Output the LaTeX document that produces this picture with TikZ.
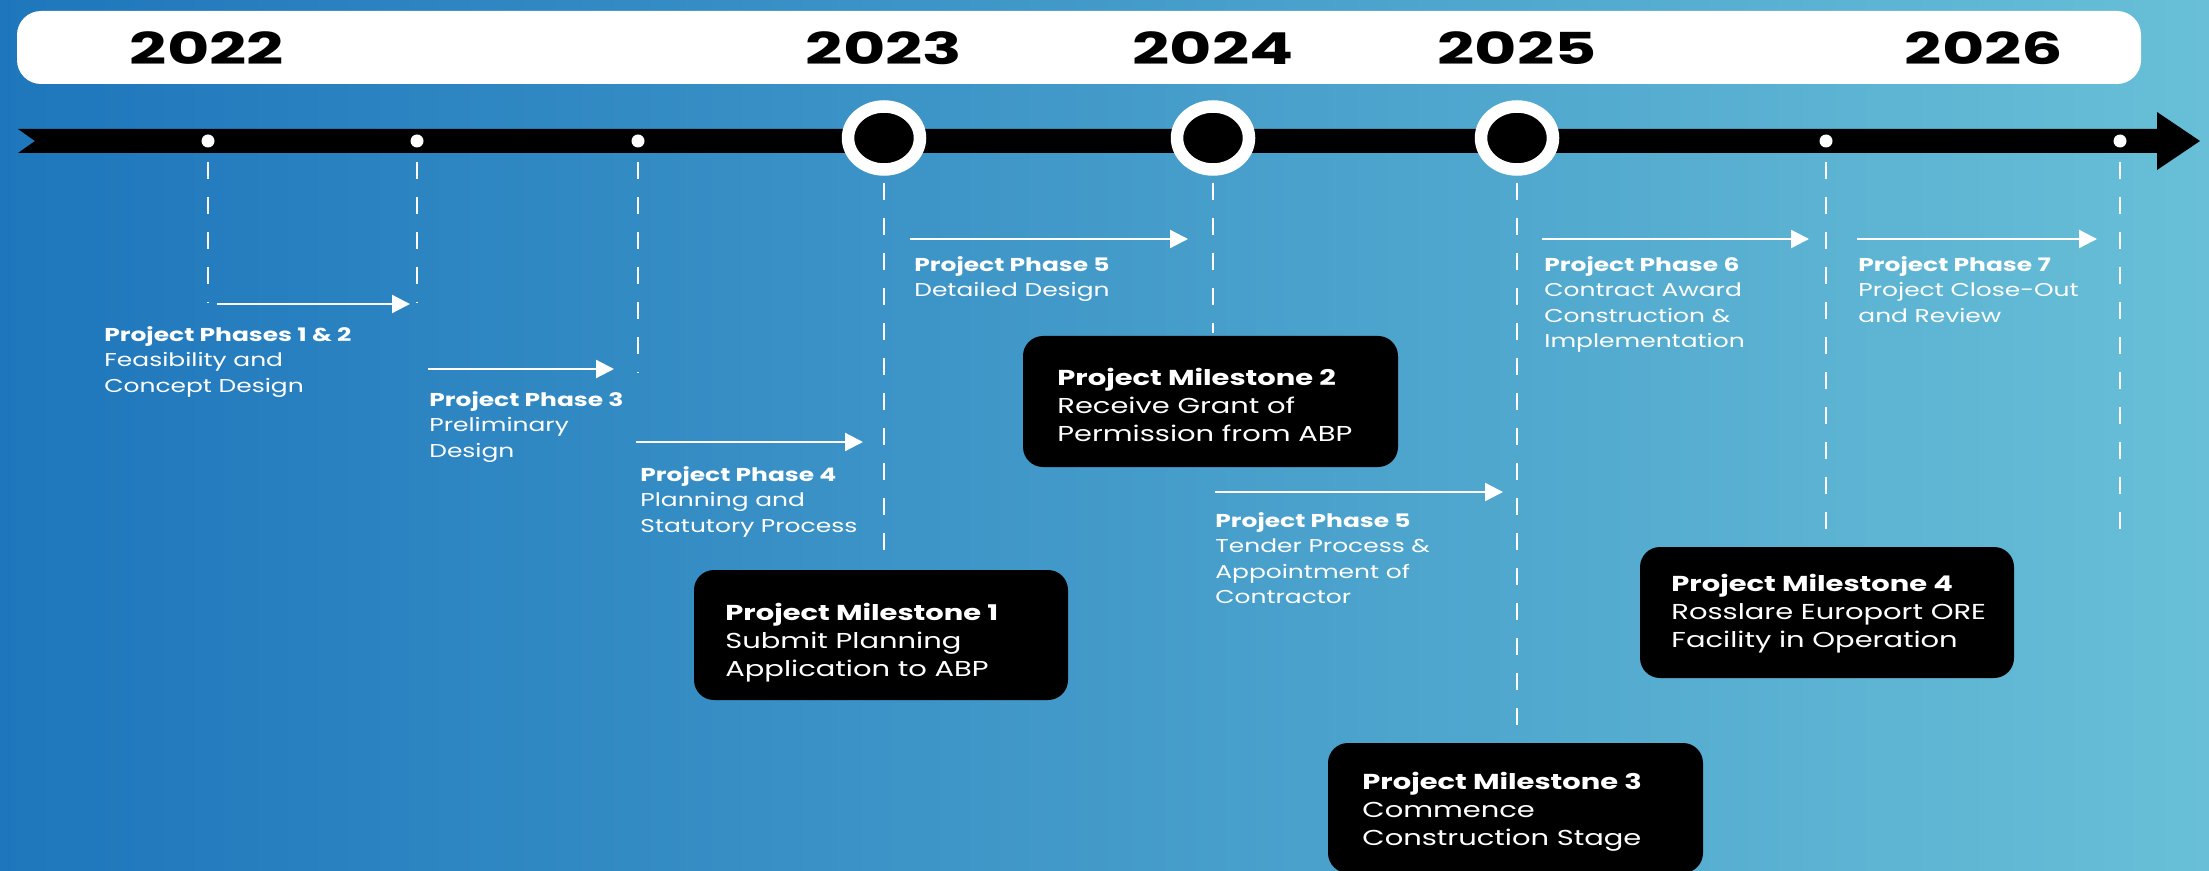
\documentclass[tikz,border=0pt]{standalone}
\usepackage{fontspec}
\setmainfont[FakeStretch=1.34]{Poppins}
\newfontfamily\yearfont[FakeStretch=1.48]{Poppins}
\usetikzlibrary{arrows.meta,shapes.geometric}
\definecolor{bgL}{RGB}{30,118,188}
\definecolor{bgR}{RGB}{104,191,215}
\tikzset{
  yearlbl/.style={inner sep=0, text=black, font=\yearfont\fontsize{22}{26}\selectfont\bfseries},
  tdot/.style={circle, fill=white, inner sep=0, minimum size=6.5pt},
  msring/.style={ellipse, fill=black, draw=white, line width=6.25pt, inner sep=0, minimum width=36pt, minimum height=31.5pt},
  dashline/.style={white, line width=1pt, dash pattern=on 8.5pt off 9pt},
  phasearrow/.style={white, line width=1.1pt, -{Triangle[length=9pt,width=9pt]}},
  phasetxt/.style={anchor=north west, inner sep=0, align=left, text=white, font=\fontsize{9.3}{12.7}\selectfont},
  msbox/.style={fill=black, rounded corners=10pt, inner sep=0},
  mstxt/.style={anchor=north west, inner sep=0, align=left, text=white, font=\fontsize{10.8}{13.9}\selectfont}
}
\begin{document}
\begin{tikzpicture}[x=0.5pt, y=-0.5pt]
\useasboundingbox (0,0) rectangle (2209,871);
\shade[left color=bgL, right color=bgR] (0,0) rectangle (2209,871);
% year band
\fill[white, rounded corners=12pt] (17,11) rectangle (2141,84);
\node[yearlbl] (y22) at (207,48) {2022};
\node[yearlbl] (y23) at (884,48) {2023};
\node[yearlbl] (y24) at (1213,48) {2024};
\node[yearlbl] (y25) at (1517,48) {2025};
\node[yearlbl] (y26) at (1984,48) {2026};
% timeline
\fill[black] (18,129) -- (2157,129) -- (2157,112) -- (2200,141) -- (2157,170) -- (2157,153) -- (18,153) -- (35,141) -- cycle;
% dots and milestone rings
\node[tdot] (d1) at (208,141) {};
\node[tdot] (d2) at (417,141) {};
\node[tdot] (d3) at (638,141) {};
\node[msring] (c1) at (884,138) {};
\node[msring] (c2) at (1213,138) {};
\node[msring] (c3) at (1517,138) {};
\node[tdot] (d4) at (1826,141) {};
\node[tdot] (d5) at (2120,141) {};
% dashed drop lines
\coordinate (e1) at (208,303);
\coordinate (e2) at (417,303);
\coordinate (e3) at (638,373);
\coordinate (e4) at (884,562);
\coordinate (e5) at (1213,333);
\coordinate (e6) at (1517,732);
\coordinate (e7) at (1826,542);
\coordinate (e8) at (2120,542);
\draw[dashline] ([yshift=-7pt]d1.south) -- (e1);
\draw[dashline] ([yshift=-7pt]d2.south) -- (e2);
\draw[dashline] ([yshift=-7pt]d3.south) -- (e3);
\draw[dashline] ([yshift=-3.5pt]c1.south) -- (e4);
\draw[dashline] ([yshift=-3.5pt]c2.south) -- (e5);
\draw[dashline] ([yshift=-3.5pt]c3.south) -- (e6);
\draw[dashline] ([yshift=-7pt]d4.south) -- (e7);
\draw[dashline] ([yshift=-7pt]d5.south) -- (e8);
% phase arrows
\coordinate (a1s) at (217,304);  \coordinate (a1e) at (410,304);
\coordinate (a2s) at (428,369);  \coordinate (a2e) at (614,369);
\coordinate (a3s) at (636,442);  \coordinate (a3e) at (863,442);
\coordinate (a4s) at (910,239);  \coordinate (a4e) at (1188,239);
\coordinate (a5s) at (1215,492); \coordinate (a5e) at (1503,492);
\coordinate (a6s) at (1542,239); \coordinate (a6e) at (1809,239);
\coordinate (a7s) at (1857,239); \coordinate (a7e) at (2097,239);
\draw[phasearrow] (a1s) -- (a1e);
\draw[phasearrow] (a2s) -- (a2e);
\draw[phasearrow] (a3s) -- (a3e);
\draw[phasearrow] (a4s) -- (a4e);
\draw[phasearrow] (a5s) -- (a5e);
\draw[phasearrow] (a6s) -- (a6e);
\draw[phasearrow] (a7s) -- (a7e);
% phase texts
\node[phasetxt] (p12) at (104,326) {\textbf{Project Phases 1 \& 2}\\Feasibility and\\Concept Design};
\node[phasetxt] (p3) at (429,391) {\textbf{Project Phase 3}\\Preliminary\\Design};
\node[phasetxt] (p4) at (640,466) {\textbf{Project Phase 4}\\Planning and\\Statutory Process};
\node[phasetxt] (p5a) at (914,256) {\textbf{Project Phase 5}\\Detailed Design};
\node[phasetxt] (p5b) at (1215,512) {\textbf{Project Phase 5}\\Tender Process \&\\Appointment of\\Contractor};
\node[phasetxt] (p6) at (1544,256) {\textbf{Project Phase 6}\\Contract Award\\Construction \&\\Implementation};
\node[phasetxt] (p7) at (1858,256) {\textbf{Project Phase 7}\\Project Close-Out\\and Review};
% milestone boxes
\node[msbox, minimum width=187pt, minimum height=65pt] (m1) at (881,635) {};
\node[msbox, minimum width=187.5pt, minimum height=65.5pt] (m2) at (1210.5,401.5) {};
\node[msbox, minimum width=187.5pt, minimum height=65pt] (m3) at (1515.5,808) {};
\node[msbox, minimum width=187pt, minimum height=65.5pt] (m4) at (1827,612.5) {};
\node[mstxt] (m1t) at (725,603) {\textbf{Project Milestone 1}\\Submit Planning\\Application to ABP};
\node[mstxt] (m2t) at (1057,368) {\textbf{Project Milestone 2}\\Receive Grant of\\Permission from ABP};
\node[mstxt] (m3t) at (1362,772) {\textbf{Project Milestone 3}\\Commence\\Construction Stage};
\node[mstxt] (m4t) at (1671,574) {\textbf{Project Milestone 4}\\Rosslare Europort ORE\\Facility in Operation};
\end{tikzpicture}
\end{document}
